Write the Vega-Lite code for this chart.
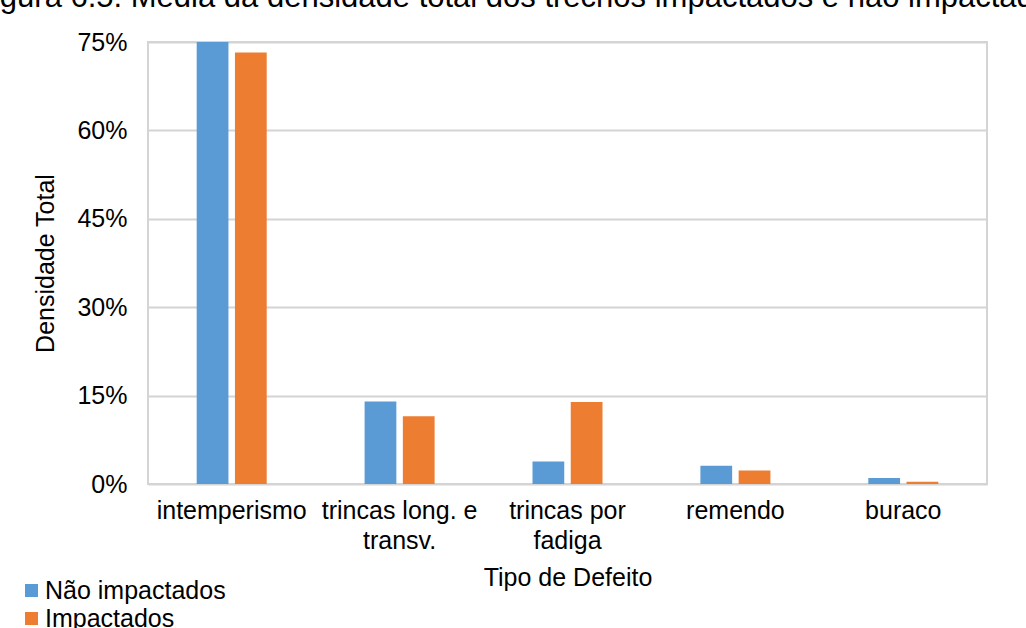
{
  "$schema": "https://vega.github.io/schema/vega-lite/v6.json",
  "width": 839,
  "height": 442,
  "autosize": {"type": "none"},
  "padding": {"left": 148, "top": 42, "right": 39, "bottom": 144},
  "background": "#ffffff",
  "title": {
    "text": "Figura 6.5: Média da densidade total dos trechos impactados e não impactados",
    "anchor": "start",
    "frame": "group",
    "orient": "top",
    "dx": -174,
    "dy": 8,
    "offset": 0,
    "baseline": "alphabetic",
    "font": "Liberation Sans",
    "fontSize": 31,
    "fontWeight": "normal",
    "color": "#000000"
  },
  "data": {
    "values": [
      {"defeito": "intemperismo", "grupo": "Não impactados", "densidade": 0.750},
      {"defeito": "intemperismo", "grupo": "Impactados", "densidade": 0.732},
      {"defeito": "trincas long. e transv.", "grupo": "Não impactados", "densidade": 0.140},
      {"defeito": "trincas long. e transv.", "grupo": "Impactados", "densidade": 0.115},
      {"defeito": "trincas por fadiga", "grupo": "Não impactados", "densidade": 0.038},
      {"defeito": "trincas por fadiga", "grupo": "Impactados", "densidade": 0.139},
      {"defeito": "remendo", "grupo": "Não impactados", "densidade": 0.031},
      {"defeito": "remendo", "grupo": "Impactados", "densidade": 0.023},
      {"defeito": "buraco", "grupo": "Não impactados", "densidade": 0.010},
      {"defeito": "buraco", "grupo": "Impactados", "densidade": 0.004}
    ]
  },
  "mark": {"type": "bar"},
  "encoding": {
    "x": {
      "field": "defeito",
      "type": "nominal",
      "sort": ["intemperismo", "trincas long. e transv.", "trincas por fadiga", "remendo", "buraco"],
      "scale": {"paddingInner": 0.583, "paddingOuter": 0.29},
      "axis": {
        "title": "Tipo de Defeito",
        "labelAngle": 0,
        "labelExpr": "datum.label == 'trincas long. e transv.' ? ['trincas long. e', 'transv.'] : datum.label == 'trincas por fadiga' ? ['trincas por', 'fadiga'] : datum.label",
        "labelLineHeight": 30,
        "labelPadding": 14,
        "labelBaseline": "top",
        "ticks": false,
        "domain": false,
        "titlePadding": 12
      }
    },
    "xOffset": {
      "field": "grupo",
      "type": "nominal",
      "sort": ["Não impactados", "Impactados"],
      "scale": {"paddingInner": 0.17, "paddingOuter": 0}
    },
    "y": {
      "field": "densidade",
      "type": "quantitative",
      "scale": {"domain": [0, 0.75], "nice": false},
      "axis": {
        "title": "Densidade Total",
        "format": ".0%",
        "values": [0, 0.15, 0.3, 0.45, 0.6, 0.75],
        "ticks": false,
        "domain": false,
        "labelPadding": 21,
        "titlePadding": 18
      }
    },
    "color": {
      "field": "grupo",
      "type": "nominal",
      "sort": ["Não impactados", "Impactados"],
      "scale": {"range": ["#5B9BD5", "#ED7D31"]},
      "legend": {
        "title": null,
        "orient": "none",
        "legendX": -129,
        "legendY": 536,
        "direction": "vertical",
        "symbolType": "square",
        "symbolSize": 170,
        "symbolStrokeWidth": 0,
        "labelFontSize": 25,
        "labelFont": "Liberation Sans",
        "labelColor": "#000000",
        "labelLimit": 0,
        "labelOffset": 1,
        "rowPadding": 2,
        "padding": 0
      }
    }
  },
  "config": {
    "view": {"stroke": "#d4d4d4", "strokeWidth": 2},
    "axis": {
      "labelFont": "Liberation Sans",
      "labelFontSize": 25,
      "labelColor": "#000000",
      "titleFont": "Liberation Sans",
      "titleFontSize": 25,
      "titleFontWeight": "normal",
      "titleColor": "#000000",
      "gridColor": "#d4d4d4",
      "gridWidth": 2
    },
    "axisX": {"grid": false}
  }
}
